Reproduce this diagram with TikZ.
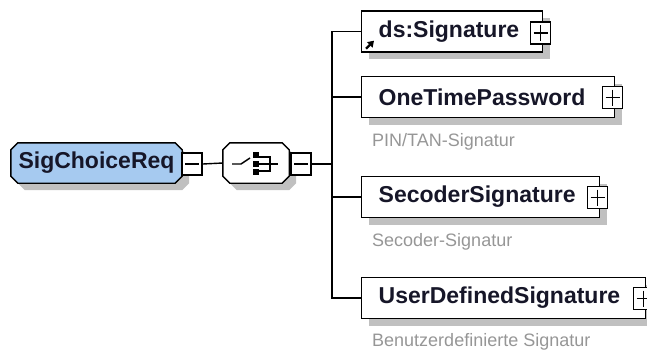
\documentclass[tikz,border=0pt]{standalone}
\usepackage{fontspec}
\setmainfont{Liberation Sans}
\usepackage{tikz}
\usetikzlibrary{arrows.meta,positioning,calc,shadows,backgrounds}

\definecolor{rootblue}{RGB}{166,202,240}
\definecolor{shadowgray}{RGB}{192,192,192}
\definecolor{inkdark}{RGB}{22,22,40}
\definecolor{notegray}{RGB}{150,150,150}

% octagon outline round a node, shifted by (#2,#3)
\newcommand{\octpath}[3]{%
  ([shift={(#2+7pt,#3)}]#1.north west) -- ([shift={(#2-7pt,#3)}]#1.north east)
  -- ([shift={(#2,#3-7pt)}]#1.north east) -- ([shift={(#2,#3+7pt)}]#1.south east)
  -- ([shift={(#2-7pt,#3)}]#1.south east) -- ([shift={(#2+7pt,#3)}]#1.south west)
  -- ([shift={(#2,#3+7pt)}]#1.south west) -- ([shift={(#2,#3-7pt)}]#1.north west) -- cycle}

\tikzset{
    conn/.style={line width=1.4pt},
    boxshadow/.style={drop shadow={shadow xshift=7pt,shadow yshift=-7pt,fill=shadowgray,opacity=1}},
    octbox/.style={inner sep=0pt,minimum height=40pt,
        text=inkdark,font=\fontsize{23}{27}\selectfont\bfseries},
    elembox/.style={draw,line width=1.4pt,fill=white,minimum height=41pt,inner xsep=17pt,
        align=left,anchor=west,boxshadow,text=inkdark,font=\fontsize{23}{27}\selectfont\bfseries},
    notetext/.style={anchor=west,inner sep=0pt,text=notegray,font=\fontsize{18}{21}\selectfont},
    minusbox/.style={draw,line width=1.5pt,fill=white,minimum width=20pt,minimum height=22pt,inner sep=0pt,
        path picture={\draw[line width=1.5pt] ([xshift=3pt]path picture bounding box.west) -- ([xshift=-3pt]path picture bounding box.east);}},
    plusbox/.style={minusbox,
        path picture={\draw[line width=1.5pt] ([xshift=3pt]path picture bounding box.west) -- ([xshift=-3pt]path picture bounding box.east)
            ([yshift=-3pt]path picture bounding box.north) -- ([yshift=3pt]path picture bounding box.south);}},
}

\begin{document}
\begin{tikzpicture}[x=1pt,y=-1pt]
    \useasboundingbox (0,0) rectangle (647,351);

    % root element
    \node[octbox,minimum width=171pt] (root) at (96.5,163) {SigChoiceReq};
    \node[minusbox] (rootpm) at (192,164) {};

    % choice compositor
    \node[octbox,minimum width=66pt] (choice) at (256,163) {};
    \node[minusbox] (choicepm) at (301,164) {};
    \begin{scope}[on background layer]
        \fill[shadowgray] \octpath{root}{7pt}{-7pt};
        \draw[line width=1.4pt,fill=rootblue] \octpath{root}{0pt}{0pt};
        \fill[shadowgray] \octpath{choice}{7pt}{-7pt};
        \draw[line width=1.4pt,fill=white] \octpath{choice}{0pt}{0pt};
    \end{scope}
    \begin{scope}[shift={(choice.center)},line width=1.4pt]
        \draw (-24,1) -- (-15,1) -- (-6,-5);
        \fill (-3,-11) rectangle (3,-5);
        \fill (-3,-2) rectangle (3,4);
        \fill (-3,6) rectangle (3,12);
        \draw (3,-6) -- (14,-6) -- (14,8) -- (3,8);
        \draw (3,1) -- (22,1);
    \end{scope}

    % child elements
    \node[elembox,minimum width=181pt,text width=147pt] (sig) at (361,31.5) {ds:Signature};
    \node[plusbox] (sigpm) at (540.5,33) {};
    \draw[line width=2.4pt,-{Triangle[length=6pt,width=7.5pt]}] ([shift={(5pt,4pt)}]sig.south west) -- ([shift={(13pt,12pt)}]sig.south west);

    \node[elembox,minimum width=253pt,text width=219pt] (otp) at (361,97) {OneTimePassword};
    \node[plusbox] (otppm) at (612.5,97.5) {};
    \node[notetext] (otpnote) at ([xshift=11pt,yshift=-24pt]otp.south west) {PIN/TAN-Signatur};

    \node[elembox,minimum width=238pt,text width=204pt] (sec) at (361,197) {SecoderSignature};
    \node[plusbox] (secpm) at (597.5,197.5) {};
    \node[notetext] (secnote) at ([xshift=11pt,yshift=-24pt]sec.south west) {Secoder-Signatur};

    \node[elembox,minimum width=284pt,text width=250pt] (usr) at (361,298) {UserDefinedSignature};
    \node[plusbox] (usrpm) at (643.5,298.5) {};
    \node[notetext] (usrnote) at ([xshift=11pt,yshift=-23pt]usr.south west) {Benutzerdefinierte Signatur};

    % connectors
    \coordinate (busx) at (332,0);
    \draw[conn] (rootpm.east) -- (choice.west);
    \draw[conn] (choicepm.east) -- (busx |- choicepm.east);
    \draw[conn] (sig.west) -| (busx |- usr.west) -- (usr.west);
    \draw[conn] (busx |- otp.west) -- (otp.west);
    \draw[conn] (busx |- sec.west) -- (sec.west);
\end{tikzpicture}
\end{document}
